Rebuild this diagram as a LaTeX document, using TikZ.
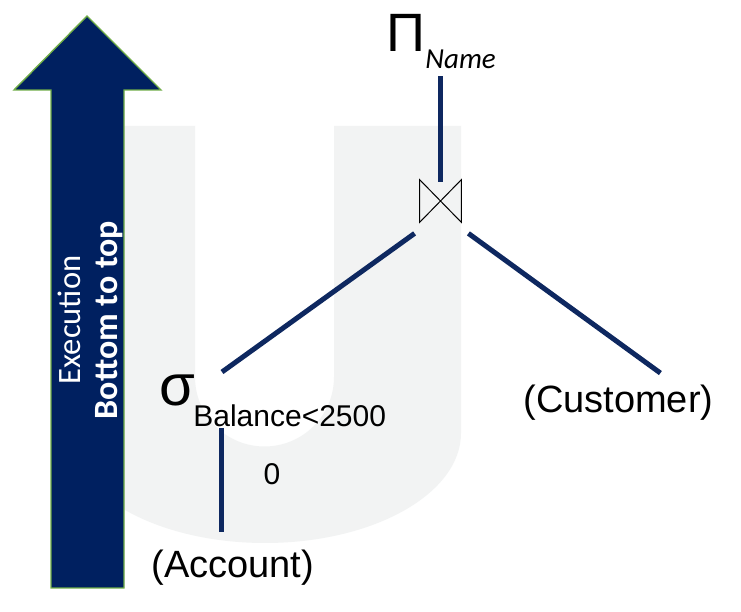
\documentclass[tikz,border=0pt]{standalone}
\usepackage{fontspec}
\setmainfont{Liberation Sans}
\newfontfamily\calibri{Carlito}
\usetikzlibrary{positioning, calc}
\definecolor{navy}{RGB}{0,32,96}
\definecolor{edgeblue}{RGB}{14,40,96}
\definecolor{arrowgreen}{RGB}{112,173,71}
\definecolor{watermark}{RGB}{242,243,243}
\tikzset{
	reltext/.style={font=\fontsize{19}{22}\selectfont, inner sep=0pt}
}
\tikzset{
	condtext/.style={font=\fontsize{15}{18}\selectfont, inner sep=0pt}
}
\tikzset{
	treeedge/.style={line width=2.5pt, edgeblue}
}
\tikzset{
	joinbox/.style={minimum width=20.5pt, minimum height=21pt, inner sep=0pt}
}
\newcommand{\namesub}[1]{\raisebox{-8.5pt}{\calibri\itshape\fontsize{14.5}{17}\selectfont #1}}

\begin{document}
\begin{tikzpicture}[x=0.5pt, y=0.5pt]
  \useasboundingbox[fill=white] (0,0) rectangle (741,612);
  % watermark
  \fill[watermark] (69,486) -- (69,179) arc[start angle=180, end angle=360, x radius=196, y radius=110] -- (461,486) -- (334,486) -- (334,235) arc[start angle=0, end angle=-180, radius=69.5] -- (195,486) -- cycle;
  % execution arrow
  \draw[fill=navy, draw=arrowgreen, line width=0.7pt] (51,24) -- (51,522) -- (14,522) -- (87,596) -- (161,522) -- (124,522) -- (124,24) -- cycle;
  \node[rotate=90, text=white, font=\calibri\fontsize{16.3}{19}\selectfont] (exec) at (69,292) {Execution};
  \node[rotate=90, text=white, font=\calibri\bfseries\fontsize{17}{20}\selectfont] (dir) at (109,292) {Bottom to top};
  % tree
  \node[anchor=base west, inner sep=0pt, font=\fontsize{27}{30}\selectfont] (proj) at (386,560) {Π\namesub{Name}};
  \node[joinbox] (join) at (440.5,411) {};
  \draw[line width=0.5pt] (join.north west) -- (join.south west) -- (join.north east) -- (join.south east) -- cycle;
  \node[inner sep=0pt, font=\fontsize{29}{32}\selectfont] (sel) at (177,222) {σ};
  \node[condtext, anchor=base west] (cond) at (193,185) {Balance<2500};
  \node[condtext, anchor=base] (zero) at (272,127) {0};
  \node[reltext, anchor=base west] (acct) at (151,34) {(Account)};
  \node[reltext, anchor=base west] (cust) at (523,199) {(Customer)};
  \draw[treeedge] ($(join.north)+(0,-2)$) -- ($(join.north |- proj.south)+(0,-6)$);
  \draw[treeedge] ([shift={(-5,-11)}]join.south west) -- ([shift={(45,18)}]sel.center);
  \draw[treeedge] ([shift={(7,-11)}]join.south east) -- ([shift={(42,12)}]cust.north);
  \draw[treeedge] ([shift={(44,-38)}]sel.center) -- ([shift={(70,46)}]acct.base west);
\end{tikzpicture}
\end{document}
